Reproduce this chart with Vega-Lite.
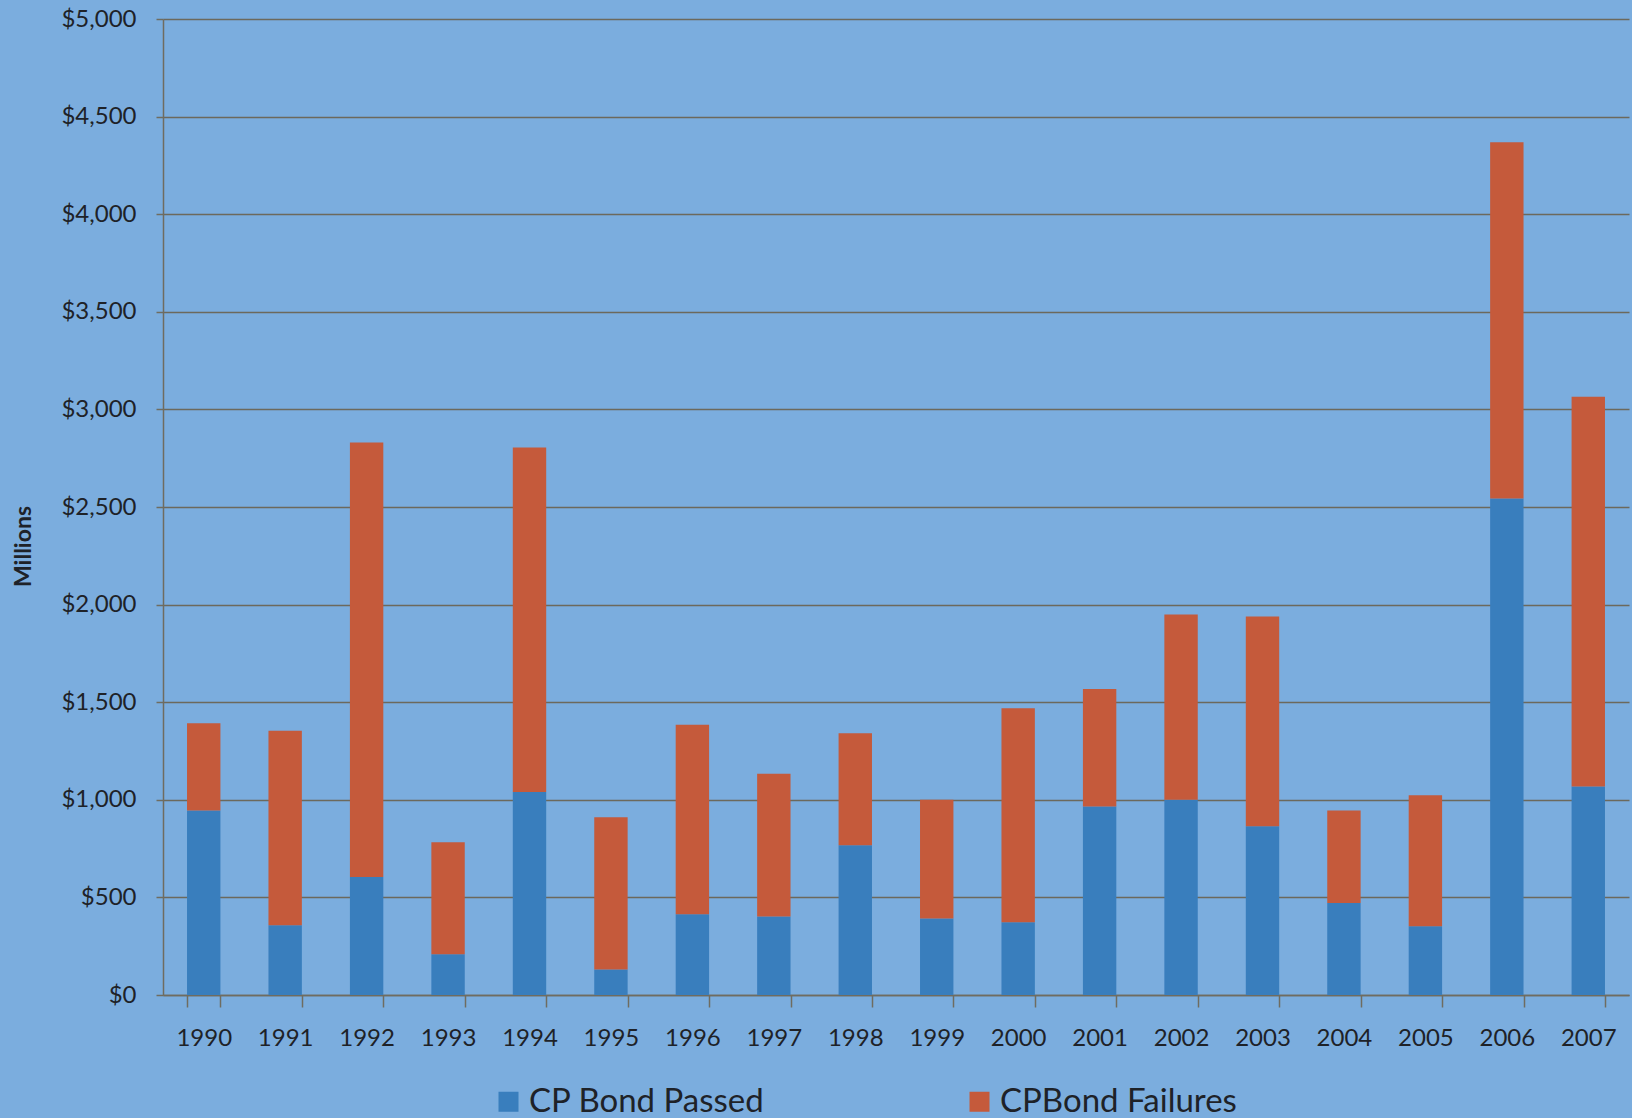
{
  "$schema": "https://vega.github.io/schema/vega-lite/v6.json",
  "autosize": {"type": "none"},
  "width": 1466,
  "height": 976,
  "padding": {"left": 163, "top": 19, "right": 3, "bottom": 123},
  "background": "#7badde",
  "title": {
    "text": "1990-2007",
    "font": "Lato",
    "fontWeight": "bold",
    "fontSize": 50,
    "color": "#1c2230",
    "anchor": "middle",
    "frame": "group",
    "baseline": "alphabetic",
    "offset": -40,
    "dx": 10
  },
  "config": {
    "view": {"stroke": null, "fill": "#7badde"},
    "font": "Lato",
    "axis": {
      "labelFont": "Lato",
      "labelFontSize": 24,
      "labelColor": "#1e2228",
      "domainColor": "#6f6c60",
      "domainWidth": 1.5,
      "tickColor": "#6f6c60",
      "tickWidth": 1.5,
      "gridColor": "#6c695c",
      "gridWidth": 1.5
    }
  },
  "data": {
    "values": [
      {"year": "1990", "series": "CP Bond Passed", "amount": 945},
      {"year": "1990", "series": "CPBond Failures", "amount": 447},
      {"year": "1991", "series": "CP Bond Passed", "amount": 357},
      {"year": "1991", "series": "CPBond Failures", "amount": 997},
      {"year": "1992", "series": "CP Bond Passed", "amount": 604},
      {"year": "1992", "series": "CPBond Failures", "amount": 2226},
      {"year": "1993", "series": "CP Bond Passed", "amount": 209},
      {"year": "1993", "series": "CPBond Failures", "amount": 573},
      {"year": "1994", "series": "CP Bond Passed", "amount": 1040},
      {"year": "1994", "series": "CPBond Failures", "amount": 1765},
      {"year": "1995", "series": "CP Bond Passed", "amount": 130},
      {"year": "1995", "series": "CPBond Failures", "amount": 780},
      {"year": "1996", "series": "CP Bond Passed", "amount": 414},
      {"year": "1996", "series": "CPBond Failures", "amount": 970},
      {"year": "1997", "series": "CP Bond Passed", "amount": 402},
      {"year": "1997", "series": "CPBond Failures", "amount": 732},
      {"year": "1998", "series": "CP Bond Passed", "amount": 767},
      {"year": "1998", "series": "CPBond Failures", "amount": 574},
      {"year": "1999", "series": "CP Bond Passed", "amount": 392},
      {"year": "1999", "series": "CPBond Failures", "amount": 608},
      {"year": "2000", "series": "CP Bond Passed", "amount": 373},
      {"year": "2000", "series": "CPBond Failures", "amount": 1096},
      {"year": "2001", "series": "CP Bond Passed", "amount": 966},
      {"year": "2001", "series": "CPBond Failures", "amount": 601},
      {"year": "2002", "series": "CP Bond Passed", "amount": 1000},
      {"year": "2002", "series": "CPBond Failures", "amount": 949},
      {"year": "2003", "series": "CP Bond Passed", "amount": 865},
      {"year": "2003", "series": "CPBond Failures", "amount": 1074},
      {"year": "2004", "series": "CP Bond Passed", "amount": 471},
      {"year": "2004", "series": "CPBond Failures", "amount": 474},
      {"year": "2005", "series": "CP Bond Passed", "amount": 352},
      {"year": "2005", "series": "CPBond Failures", "amount": 671},
      {"year": "2006", "series": "CP Bond Passed", "amount": 2544},
      {"year": "2006", "series": "CPBond Failures", "amount": 1824},
      {"year": "2007", "series": "CP Bond Passed", "amount": 1068},
      {"year": "2007", "series": "CPBond Failures", "amount": 1997}
    ]
  },
  "mark": {"type": "bar"},
  "encoding": {
    "x": {
      "field": "year",
      "type": "nominal",
      "sort": null,
      "scale": {"paddingInner": 0.59, "paddingOuter": 0.295},
      "axis": {
        "title": null,
        "labelAngle": 0,
        "tickBand": "extent",
        "tickSize": 12,
        "labelPadding": 19,
        "grid": false
      }
    },
    "y": {
      "field": "amount",
      "type": "quantitative",
      "stack": "zero",
      "scale": {"domain": [0, 5000], "nice": false},
      "axis": {
        "values": [0, 500, 1000, 1500, 2000, 2500, 3000, 3500, 4000, 4500, 5000],
        "format": "$,.0f",
        "tickSize": 7,
        "labelPadding": 20,
        "grid": true,
        "title": "Millions",
        "titleFont": "Lato",
        "titleFontSize": 23,
        "titleFontWeight": "bold",
        "titleColor": "#1e2228",
        "titleAngle": -90,
        "titleAlign": "center",
        "titleBaseline": "middle",
        "titleX": -140,
        "titleY": 527
      }
    },
    "color": {
      "field": "series",
      "type": "nominal",
      "scale": {
        "domain": ["CP Bond Passed", "CPBond Failures"],
        "range": ["#397ebd", "#c55a3b"]
      },
      "legend": {
        "title": null,
        "orient": "none",
        "direction": "horizontal",
        "legendX": 329,
        "legendY": 1066,
        "symbolType": "square",
        "symbolSize": 400,
        "symbolStrokeWidth": 0,
        "labelFont": "Lato",
        "labelFontSize": 33,
        "labelColor": "#1e2228",
        "labelOffset": 4,
        "labelLimit": 400,
        "columnPadding": 198
      }
    },
    "order": {"field": "series", "sort": "ascending"}
  }
}
